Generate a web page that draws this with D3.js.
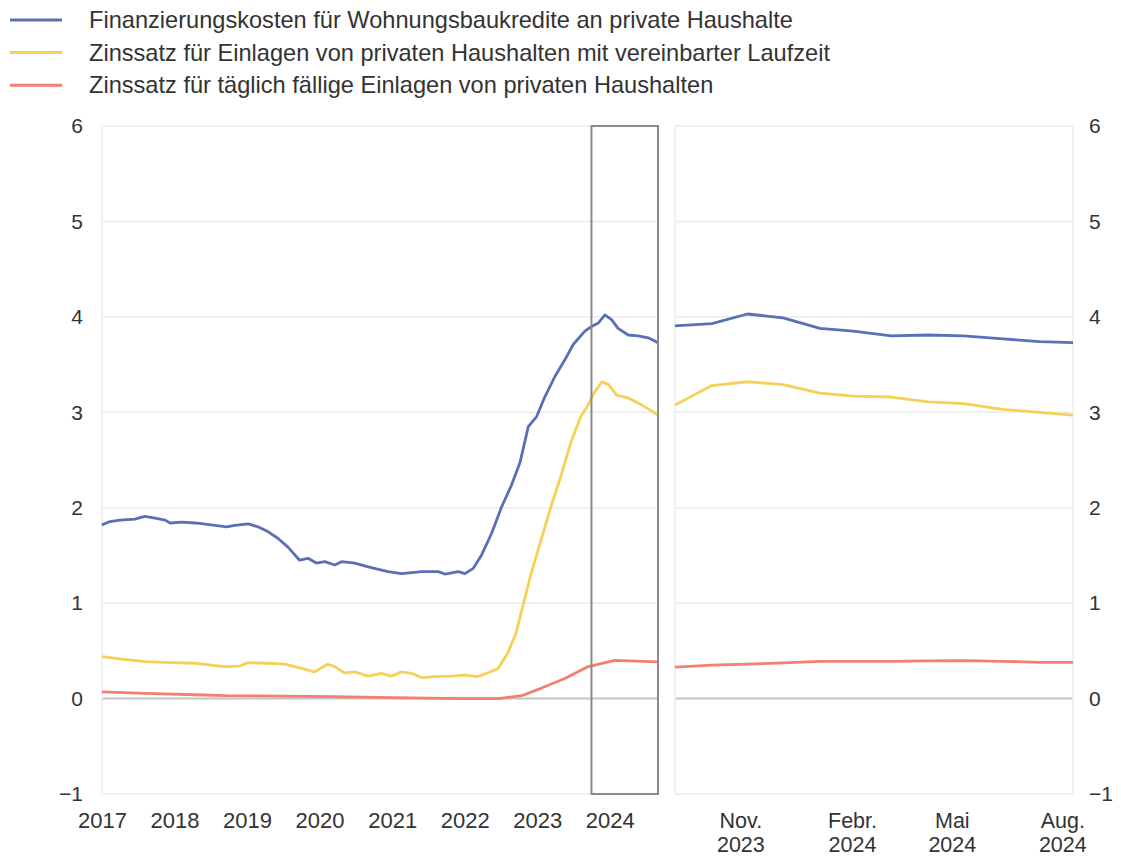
<!DOCTYPE html>
<html>
<head>
<meta charset="utf-8">
<script src="https://cdn.jsdelivr.net/npm/d3@7"></script>
<style>
  body { margin: 0; background: #fff; }
  text { font-family: "Liberation Sans", Arial, sans-serif; fill: #333; }
</style>
</head>
<body>
<svg id="chart" width="1121" height="858"></svg>
<script>
// legend / series
const seriesNames = [
  'Finanzierungskosten für Wohnungsbaukredite an private Haushalte',
  'Zinssatz für Einlagen von privaten Haushalten mit vereinbarter Laufzeit',
  'Zinssatz für täglich fällige Einlagen von privaten Haushalten'
];
const seriesColors = ['#5870b4', '#f6d057', '#f47f6e'];

const yTicks = [-1, 0, 1, 2, 3, 4, 5, 6];
const yearTicks = ['2017', '2018', '2019', '2020', '2021', '2022', '2023', '2024'];

// right panel tick labels (two lines each) and where they sit
const rightTickDates = ['2023-11-25', '2024-02-27', '2024-05-21', '2024-08-22'];
const rightTickLabels = [['Nov.', '2023'], ['Febr.', '2024'], ['Mai', '2024'], ['Aug.', '2024']];

// left panel, 2017 - Aug 2024
const loanLeft = [
  ['2017-01-01', 1.82], ['2017-02-10', 1.855], ['2017-04-01', 1.87], ['2017-06-15', 1.88],
  ['2017-08-05', 1.91], ['2017-09-25', 1.89], ['2017-11-15', 1.87], ['2017-12-10', 1.84],
  ['2018-02-05', 1.85], ['2018-04-15', 1.84], ['2018-07-05', 1.82], ['2018-09-20', 1.80],
  ['2018-11-01', 1.815], ['2019-01-07', 1.83], ['2019-02-25', 1.80], ['2019-04-16', 1.75],
  ['2019-06-05', 1.68], ['2019-07-25', 1.59], ['2019-09-23', 1.45], ['2019-11-04', 1.47],
  ['2019-12-16', 1.42], ['2020-01-28', 1.435], ['2020-03-18', 1.40], ['2020-04-21', 1.435],
  ['2020-06-27', 1.42], ['2020-09-02', 1.38], ['2020-12-11', 1.33], ['2021-02-17', 1.31],
  ['2021-05-29', 1.33], ['2021-08-20', 1.33], ['2021-09-23', 1.305], ['2021-11-29', 1.33],
  ['2022-01-02', 1.31], ['2022-02-13', 1.365], ['2022-03-27', 1.505], ['2022-05-16', 1.73],
  ['2022-07-06', 2.01], ['2022-08-25', 2.24], ['2022-10-06', 2.47], ['2022-11-17', 2.85],
  ['2022-12-29', 2.955], ['2023-02-09', 3.165], ['2023-03-31', 3.375], ['2023-05-20', 3.55],
  ['2023-07-01', 3.71], ['2023-08-29', 3.85], ['2023-10-02', 3.90], ['2023-11-04', 3.935],
  ['2023-12-08', 4.02], ['2024-01-10', 3.97], ['2024-02-12', 3.88], ['2024-04-03', 3.81],
  ['2024-05-23', 3.80], ['2024-07-13', 3.78], ['2024-08-31', 3.73]
];
const termLeft = [
  ['2017-01-01', 0.44], ['2017-04-01', 0.415], ['2017-08-05', 0.387], ['2017-12-15', 0.377],
  ['2018-04-15', 0.37], ['2018-07-05', 0.35], ['2018-09-10', 0.335], ['2018-11-25', 0.34],
  ['2019-01-07', 0.377], ['2019-04-16', 0.37], ['2019-07-10', 0.36], ['2019-08-30', 0.335],
  ['2019-12-07', 0.28], ['2020-02-10', 0.36], ['2020-03-18', 0.335], ['2020-05-05', 0.27],
  ['2020-06-27', 0.28], ['2020-09-02', 0.235], ['2020-11-07', 0.265], ['2020-12-27', 0.235],
  ['2021-02-17', 0.28], ['2021-04-08', 0.265], ['2021-05-29', 0.22], ['2021-08-03', 0.23],
  ['2021-10-24', 0.235], ['2022-01-02', 0.245], ['2022-03-08', 0.23], ['2022-06-16', 0.31],
  ['2022-08-05', 0.475], ['2022-09-16', 0.685], ['2022-10-28', 1.03], ['2022-12-01', 1.31],
  ['2023-01-20', 1.66], ['2023-03-11', 2.01], ['2023-04-30', 2.33], ['2023-06-19', 2.68],
  ['2023-08-08', 2.955], ['2023-09-10', 3.06], ['2023-10-13', 3.20], ['2023-11-23', 3.32],
  ['2023-12-26', 3.29], ['2024-02-05', 3.18], ['2024-04-03', 3.15], ['2024-06-08', 3.08],
  ['2024-08-31', 2.97]
];
const overnightLeft = [
  ['2017-01-01', 0.07], ['2017-08-05', 0.055], ['2018-04-15', 0.04], ['2018-09-15', 0.03],
  ['2019-07-10', 0.025], ['2020-03-15', 0.02], ['2020-12-27', 0.01], ['2022-01-02', 0.0],
  ['2022-06-16', 0.0], ['2022-10-15', 0.03], ['2023-01-23', 0.11], ['2023-05-20', 0.21],
  ['2023-09-15', 0.335], ['2024-01-27', 0.40], ['2024-08-31', 0.385]
];

// right panel, Oct 2023 - Aug 2024
const rightDates = ['2023-10-01', '2023-11-01', '2023-12-01', '2023-12-31', '2024-01-31', '2024-02-28',
                    '2024-03-31', '2024-05-01', '2024-05-31', '2024-07-03', '2024-08-03', '2024-08-31'];
const loanRight = [3.905, 3.93, 4.03, 3.99, 3.88, 3.85, 3.80, 3.81, 3.80, 3.77, 3.74, 3.73];
const termRight = [3.075, 3.28, 3.32, 3.29, 3.20, 3.17, 3.16, 3.11, 3.09, 3.03, 3.00, 2.97];
const overnightRight = [0.33, 0.35, 0.36, 0.375, 0.39, 0.39, 0.39, 0.395, 0.397, 0.39, 0.38, 0.38];

const parse = d3.timeParse('%Y-%m-%d');
const svg = d3.select('#chart');

const yTop = 126, yBottom = 794;
const y = d3.scaleLinear().domain([-1, 6]).range([yBottom, yTop]);
const xL = d3.scaleTime().domain([parse('2017-01-01'), parse('2024-08-31')]).range([102, 658]);
const xR = d3.scaleTime().domain([parse('2023-10-01'), parse('2024-08-31')]).range([675, 1073]);

const leftSeries = [loanLeft, termLeft, overnightLeft]
  .map(s => s.map(([d, v]) => ({ date: parse(d), value: v })));
const rightSeries = [loanRight, termRight, overnightRight]
  .map(s => s.map((v, i) => ({ date: parse(rightDates[i]), value: v })));

function panel (x, series, frameEdges) {
  const [x0, x1] = x.range();
  const g = svg.append('g');

  // horizontal grid
  g.selectAll('line.grid').data(yTicks).join('line')
    .attr('x1', x0).attr('x2', x1)
    .attr('y1', d => y(d)).attr('y2', d => y(d))
    .attr('stroke', d => d === 0 ? '#c4c4c4' : '#ececec')
    .attr('stroke-width', d => d === 0 ? 2 : 1.5);

  // light frame
  frameEdges.forEach(ex => {
    g.append('line').attr('x1', ex).attr('x2', ex).attr('y1', yTop).attr('y2', yBottom)
      .attr('stroke', '#ececec').attr('stroke-width', 1.5);
  });

  const line = d3.line().x(d => x(d.date)).y(d => y(d.value));
  g.selectAll('path.series').data(series).join('path')
    .attr('d', line)
    .attr('fill', 'none')
    .attr('stroke', (d, i) => seriesColors[i])
    .attr('stroke-width', 2.8)
    .attr('stroke-linejoin', 'round');
  return g;
}

panel(xL, leftSeries, [102]);
panel(xR, rightSeries, [675, 1073]);

// box marking the zoomed period
svg.append('rect')
  .attr('x', xL(parse('2023-10-01')))
  .attr('y', yTop)
  .attr('width', xL(parse('2024-08-31')) - xL(parse('2023-10-01')))
  .attr('height', yBottom - yTop)
  .attr('fill', 'none')
  .attr('stroke', '#8a8a8a')
  .attr('stroke-width', 2);

// y axes
const yFmt = d => d < 0 ? '\u2212' + Math.abs(d) : String(d);
const yl = svg.append('g').attr('transform', 'translate(83,0)')
  .call(d3.axisLeft(y).tickValues(yTicks).tickSize(0).tickPadding(0).tickFormat(yFmt));
const yr = svg.append('g').attr('transform', 'translate(1089,0)')
  .call(d3.axisRight(y).tickValues(yTicks).tickSize(0).tickPadding(0).tickFormat(yFmt));
[yl, yr].forEach(a => {
  a.select('.domain').remove();
  a.selectAll('text').style('font-size', '21px').attr('fill', '#333');
});

// x axis left
const xl = svg.append('g').attr('transform', 'translate(0,812)')
  .call(d3.axisBottom(xL).tickValues(yearTicks.map(d => parse(d + '-01-01')))
    .tickSize(0).tickPadding(0).tickFormat(d3.timeFormat('%Y')));
xl.select('.domain').remove();
xl.selectAll('text').style('font-size', '22px').attr('fill', '#333');

// x axis right, two-line labels (kept inside the bottom edge)
const xr = svg.append('g').attr('transform', 'translate(0,812)')
  .call(d3.axisBottom(xR).tickValues(rightTickDates.map(parse))
    .tickSize(0).tickPadding(0).tickFormat(''));
xr.select('.domain').remove();
xr.selectAll('.tick text').each(function (d, i) {
  const t = d3.select(this).style('font-size', '21.5px').attr('fill', '#333');
  t.selectAll('tspan').data(rightTickLabels[i]).join('tspan')
    .attr('x', 0)
    .attr('dy', (s, j) => j === 0 ? '0.74em' : '1.1em')
    .text(s => s);
});

// legend
const legend = svg.append('g');
seriesNames.forEach((name, i) => {
  const ly = 20 + i * 32.6;
  legend.append('line').attr('x1', 10).attr('x2', 62).attr('y1', ly).attr('y2', ly)
    .attr('stroke', seriesColors[i]).attr('stroke-width', 3);
  legend.append('text').attr('x', 89).attr('y', ly).attr('dy', '0.35em')
    .style('font-size', '23.6px').attr('fill', '#222').text(name);
});
</script>
</body>
</html>
